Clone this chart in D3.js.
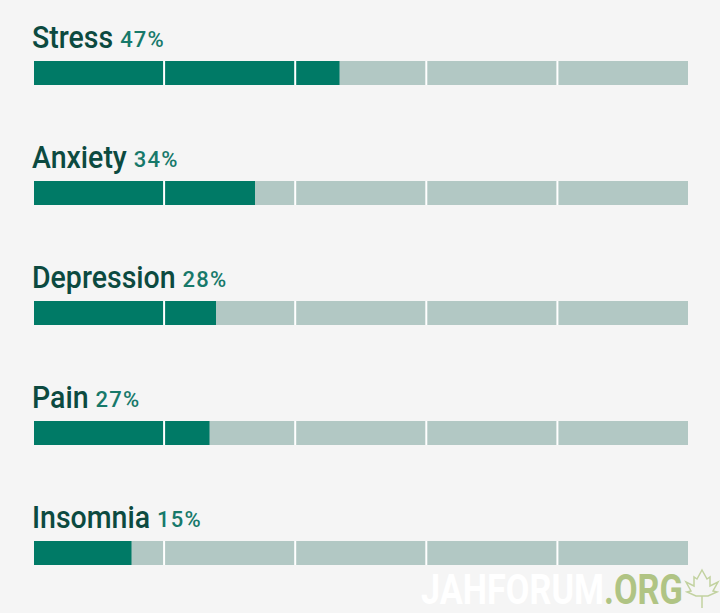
<!DOCTYPE html>
<html>
<head>
<meta charset="utf-8">
<script src="https://cdn.jsdelivr.net/npm/d3@7"></script>
<style>
  html, body { margin: 0; padding: 0; background: #f5f5f5; }
  svg { display: block; }
  .name { font-family: "Roboto", sans-serif; font-size: 31px; font-weight: 500; fill: #0c4a40; }
  .pct { font-family: "Roboto", sans-serif; font-size: 22px; font-weight: 500; letter-spacing: 1.2px; fill: #17796a; }
  .wm { font-family: "Roboto", sans-serif; font-size: 42px; font-weight: 700; }
</style>
</head>
<body>
<script>
var categories = ["Stress", "Anxiety", "Depression", "Pain", "Insomnia"];
var values = [47, 34, 28, 27, 15];
var gridTicks = [20, 40, 60, 80];

var width = 720;
var height = 613;
var nameSqueeze = 0.92; // no condensed font here, squeeze the labels

var svg = d3.select("body").append("svg")
    .attr("width", width)
    .attr("height", height);

var x = d3.scaleLinear().domain([0, 100]).range([33, 688.5]);
// the filled part runs a bit short of the track in the original
var fillX = d3.scaleLinear().domain([0, 100]).range([34, 684]);
var row = d3.scaleBand().domain(categories).range([13, 613]);
var barHeight = 24;
var barTop = function (d) { return row(d) + 48; };

var group = svg.selectAll("g.row")
    .data(categories)
    .enter()
    .append("g")
    .attr("class", "row");

group.append("rect")
    .attr("x", 34)
    .attr("y", barTop)
    .attr("width", 654)
    .attr("height", barHeight)
    .attr("fill", "#b2c8c4");

group.append("rect")
    .attr("x", fillX(0))
    .attr("y", barTop)
    .attr("width", function (d, i) { return fillX(values[i]) - fillX(0); })
    .attr("height", barHeight)
    .attr("fill", "#007a66");

gridTicks.forEach(function (t) {
    group.append("line")
        .attr("x1", x(t))
        .attr("x2", x(t))
        .attr("y1", barTop)
        .attr("y2", function (d) { return barTop(d) + barHeight; })
        .attr("stroke", "#ffffff")
        .attr("stroke-width", 2);
});

var names = group.append("text")
    .attr("class", "name")
    .attr("transform", function (d) { return "translate(32," + (row(d) + 35) + ") scale(" + nameSqueeze + ",1)"; })
    .text(function (d) { return d; });

group.append("text")
    .attr("class", "pct")
    .attr("x", function (d, i) { return 32 + names.nodes()[i].getComputedTextLength() * nameSqueeze + 7; })
    .attr("y", function (d) { return row(d) + 34; })
    .text(function (d, i) { return values[i] + "%"; });

// watermark
var wm = svg.append("g");
var wmText = wm.append("text").attr("class", "wm");
wmText.append("tspan").attr("fill", "#ffffff").text("JAHFORUM");
wmText.append("tspan").attr("fill", "#b0c484").text(".ORG");
var wmSqueeze = 262 / wmText.node().getComputedTextLength();
wmText.attr("transform", "translate(421,604) scale(" + wmSqueeze + ",1)");
wm.append("path")
    .attr("d", "M702 608V596M702 570l5 9 3-2 0 9 8-4-5 9 4 1-9 4h-12l-9-4 4-1-5-9 8 4 0-9 3 2z")
    .attr("fill", "none")
    .attr("stroke", "#c2d2a0")
    .attr("stroke-width", 1.5);
</script>
</body>
</html>
